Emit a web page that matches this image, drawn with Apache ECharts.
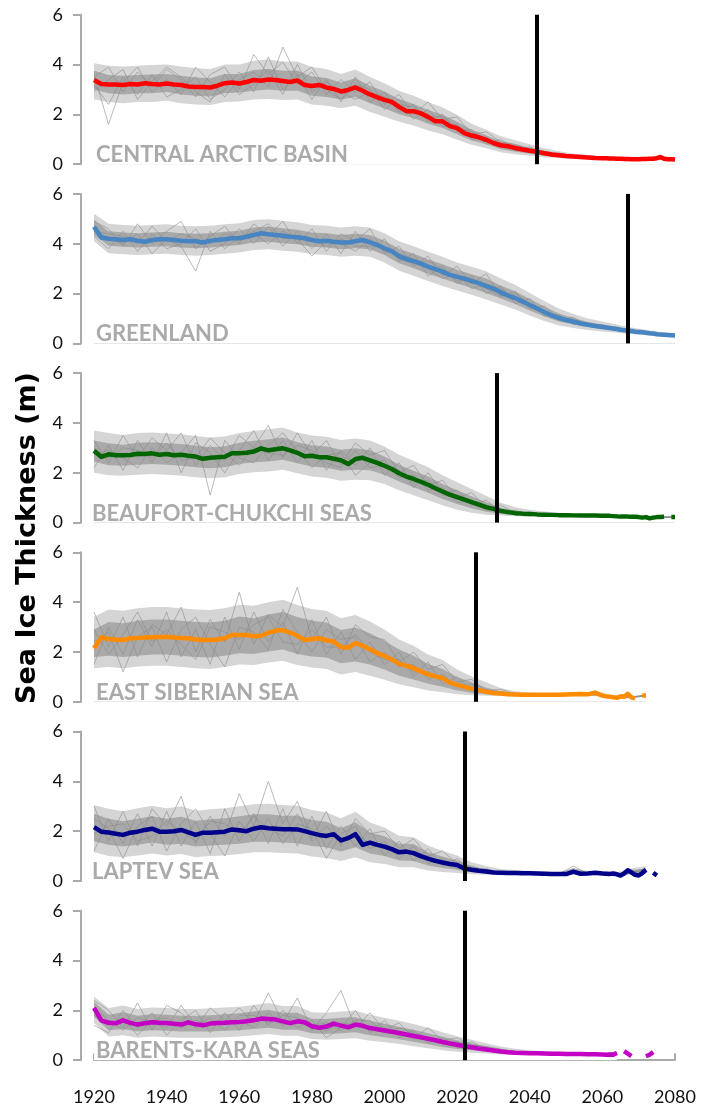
<!DOCTYPE html>
<html>
<head>
<meta charset="utf-8">
<script src="https://cdn.jsdelivr.net/npm/echarts@6/dist/echarts.min.js"></script>
<style>
html,body{margin:0;padding:0;background:#fff;}
#chart{width:710px;height:1113px;}
</style>
</head>
<body>
<div id="chart"></div>
<script>
// ---------------- DATA ----------------
const regions = ['CENTRAL ARCTIC BASIN','GREENLAND','BEAUFORT-CHUKCHI SEAS','EAST SIBERIAN SEA','LAPTEV SEA','BARENTS-KARA SEAS'];
const meanColors = ['#ff0000','#4785c2','#006400','#ff8c00','#00008b','#c400c4'];
const crossYears = [2042,2067,2031,2025,2022,2022];
const yTickValues = [0,2,4,6];
const xTickValues = [1920,1940,1960,1980,2000,2020,2040,2060,2080];
const yTitle = 'Sea Ice Thickness (m)';

// ensemble sample years
const years4 = [1920,1924,1928,1932,1936,1940,1944,1948,1952,1956,1960,1964,1968,1972,1976,1980,1984,1988,1992,1996,2000,2004,2008,2012,2016,2020,2024,2028,2032,2036,2040,2044,2048,2052,2056,2060,2064,2068,2072,2076,2080];
// ensemble-mean sample years
const meanYears = [1920,1922,1924,1926,1928,1930,1932,1934,1936,1938,1940,1942,1944,1946,1948,1950,1952,1954,1956,1958,1960,1962,1964,1966,1968,1970,1972,1974,1976,1978,1980,1982,1984,1986,1988,1990,1992,1994,1996,1998,2000,2002,2004,2006,2008,2010,2012,2014,2016,2018,2020,2022,2024,2026,2028,2030,2032,2034,2036,2038,2040,2042,2044,2046,2048,2050,2052,2054,2056,2058,2060,2061,2062,2063,2064,2065,2066,2067,2068,2069,2070,2071,2072,2073,2074,2075,2076,2077,2078,2079,2080];

// ensemble means
const meanCentral = [3.38,3.22,3.2,3.2,3.18,3.22,3.2,3.25,3.22,3.2,3.24,3.2,3.18,3.12,3.1,3.1,3.08,3.15,3.25,3.28,3.24,3.3,3.38,3.35,3.4,3.38,3.34,3.3,3.36,3.18,3.14,3.18,3.08,3.02,2.92,2.98,3.08,2.95,2.8,2.68,2.58,2.5,2.3,2.13,2.13,2.04,1.9,1.72,1.72,1.53,1.45,1.25,1.15,1.08,0.98,0.85,0.76,0.72,0.65,0.59,0.54,0.5,0.44,0.39,0.36,0.33,0.31,0.29,0.27,0.25,0.24,0.24,0.23,0.23,0.22,0.22,0.21,0.21,0.2,0.2,0.2,0.21,0.21,0.22,0.22,0.24,0.29,0.22,0.2,0.2,0.19];
const meanGreenland = [4.68,4.25,4.2,4.18,4.15,4.18,4.12,4.08,4.15,4.18,4.18,4.15,4.12,4.1,4.1,4.05,4.12,4.15,4.18,4.22,4.22,4.28,4.35,4.42,4.38,4.35,4.32,4.28,4.26,4.22,4.15,4.1,4.12,4.08,4.05,4.05,4.1,4.15,4.05,3.95,3.82,3.7,3.5,3.38,3.3,3.2,3.08,2.98,2.88,2.75,2.67,2.6,2.5,2.42,2.3,2.2,2.05,1.92,1.82,1.68,1.54,1.4,1.26,1.12,1.02,0.94,0.88,0.8,0.75,0.7,0.66,0.64,0.62,0.6,0.58,0.55,0.53,0.51,0.5,0.47,0.46,0.45,0.43,0.41,0.4,0.37,0.36,0.35,0.34,0.33,0.32];
const meanBeaufort = [2.88,2.64,2.74,2.7,2.7,2.71,2.76,2.75,2.78,2.72,2.75,2.7,2.72,2.68,2.65,2.56,2.6,2.62,2.64,2.78,2.78,2.8,2.85,2.98,2.9,2.94,2.98,2.9,2.8,2.66,2.68,2.62,2.62,2.56,2.5,2.35,2.55,2.6,2.5,2.4,2.28,2.15,1.98,1.85,1.75,1.64,1.52,1.38,1.25,1.12,1.02,0.92,0.82,0.72,0.62,0.55,0.47,0.42,0.38,0.36,0.35,0.33,0.32,0.31,0.3,0.3,0.29,0.28,0.28,0.28,0.27,0.27,0.27,0.26,0.25,0.24,0.24,0.24,0.23,0.23,0.22,0.2,0.22,0.17,0.2,0.22,0.22,0.23,null,0.22,0.22];
const meanEastSib = [2.15,2.59,2.52,2.5,2.48,2.55,2.56,2.58,2.59,2.6,2.6,2.58,2.56,2.55,2.5,2.48,2.48,2.5,2.55,2.68,2.68,2.68,2.63,2.65,2.77,2.85,2.88,2.78,2.65,2.48,2.52,2.55,2.47,2.42,2.2,2.17,2.35,2.25,2.11,1.95,1.84,1.7,1.52,1.45,1.35,1.22,1.1,1.02,0.95,0.77,0.68,0.6,0.53,0.47,0.4,0.35,0.33,0.3,0.29,0.28,0.28,0.28,0.28,0.28,0.28,0.29,0.3,0.31,0.3,0.37,0.25,0.22,0.2,0.18,0.16,0.22,0.2,0.32,0.18,0.14,null,0.25,0.25,null,null,null,null,null,null,null,null];
const meanLaptev = [2.16,1.98,1.95,1.9,1.85,1.94,1.98,2.05,2.1,1.98,1.98,2.0,2.05,1.95,1.85,1.94,1.94,1.96,1.98,2.07,2.04,2.0,2.1,2.16,2.12,2.1,2.08,2.08,2.07,2.0,1.92,1.85,1.81,1.88,1.63,1.72,1.88,1.45,1.54,1.45,1.38,1.28,1.15,1.18,1.12,1.0,0.9,0.81,0.74,0.68,0.64,0.5,0.45,0.41,0.38,0.34,0.33,0.32,0.32,0.31,0.31,0.3,0.29,0.28,0.28,0.28,0.38,0.29,0.3,0.33,0.3,0.29,0.28,0.3,0.27,0.22,0.3,0.43,0.35,0.25,0.22,0.32,0.45,null,0.33,0.22,null,null,null,null,null];
const meanBarents = [2.1,1.6,1.5,1.48,1.6,1.5,1.43,1.48,1.52,1.5,1.49,1.46,1.43,1.52,1.44,1.4,1.47,1.49,1.5,1.52,1.53,1.56,1.6,1.67,1.65,1.63,1.56,1.49,1.56,1.52,1.36,1.3,1.35,1.47,1.39,1.32,1.43,1.38,1.29,1.24,1.19,1.14,1.09,1.03,0.97,0.92,0.86,0.8,0.73,0.67,0.62,0.56,0.52,0.47,0.43,0.39,0.35,0.32,0.3,0.29,0.28,0.28,0.27,0.26,0.26,0.25,0.25,0.25,0.24,0.24,0.23,0.22,0.23,0.22,0.29,null,0.36,0.26,0.16,null,null,null,0.16,0.22,0.32,null,null,null,null,null,null];

// ensemble spread: outer range (faint) on years4
const outLoCentral = [2.6,2.5,2.45,2.5,2.5,2.55,2.45,2.4,2.38,2.5,2.52,2.6,2.62,2.58,2.6,2.4,2.35,2.25,2.35,2.1,1.9,1.7,1.55,1.35,1.2,0.98,0.78,0.64,0.48,0.4,0.34,0.28,0.24,0.21,0.19,0.17,0.16,0.16,0.17,0.18,0.15];
const outHiCentral = [4.05,3.95,3.92,3.95,3.98,4.0,3.92,3.85,3.82,4.0,4.0,4.15,4.2,4.12,4.12,3.9,3.82,3.62,3.8,3.5,3.25,2.95,2.75,2.5,2.28,1.98,1.62,1.38,1.12,0.96,0.8,0.64,0.52,0.43,0.37,0.32,0.28,0.26,0.26,0.34,0.24];
const outLoGreenland = [4.1,3.62,3.58,3.55,3.58,3.6,3.55,3.52,3.55,3.6,3.65,3.75,3.78,3.72,3.68,3.58,3.55,3.48,3.52,3.48,3.25,2.92,2.72,2.5,2.3,2.12,1.95,1.76,1.56,1.36,1.12,0.9,0.72,0.62,0.54,0.48,0.43,0.38,0.33,0.28,0.25];
const outHiGreenland = [5.2,4.8,4.75,4.72,4.75,4.78,4.72,4.7,4.72,4.78,4.82,4.95,4.98,4.92,4.86,4.75,4.72,4.65,4.7,4.65,4.42,4.1,3.9,3.68,3.48,3.25,3.08,2.9,2.6,2.35,2.02,1.7,1.4,1.18,1.0,0.88,0.76,0.64,0.55,0.46,0.4];
const outLoBeaufort = [2.0,1.9,1.88,1.92,1.95,1.92,1.88,1.82,1.78,1.82,1.95,2.02,2.05,2.12,1.98,1.85,1.8,1.68,1.72,1.7,1.55,1.3,1.1,0.9,0.7,0.52,0.4,0.32,0.28,0.25,0.24,0.24,0.23,0.23,0.22,0.22,0.2,0.19,0.18,0.18,0.18];
const outHiBeaufort = [3.7,3.6,3.52,3.6,3.62,3.58,3.55,3.48,3.42,3.46,3.6,3.68,3.75,3.82,3.62,3.5,3.45,3.32,3.38,3.3,3.05,2.72,2.48,2.22,1.9,1.62,1.35,1.08,0.8,0.62,0.52,0.45,0.4,0.37,0.35,0.33,0.31,0.29,0.27,0.26,0.26];
const outLoEastSib = [1.35,1.4,1.35,1.42,1.45,1.45,1.4,1.35,1.32,1.4,1.5,1.48,1.58,1.65,1.48,1.38,1.32,1.1,1.2,1.05,0.88,0.7,0.58,0.45,0.38,0.3,0.26,0.24,0.23,0.22,0.22,0.22,0.22,0.23,0.24,0.2,0.13,0.14,0.2,null,null];
const outHiEastSib = [3.4,3.7,3.65,3.75,3.8,3.8,3.75,3.7,3.68,3.75,3.9,3.85,4.0,4.1,3.88,3.72,3.65,3.35,3.48,3.22,2.9,2.5,2.25,1.9,1.68,1.3,1.02,0.78,0.55,0.42,0.36,0.34,0.34,0.36,0.37,0.31,0.2,0.22,0.3,null,null];
const outLoLaptev = [1.15,1.0,0.95,1.02,1.1,1.02,1.08,0.95,1.0,1.02,1.08,1.15,1.15,1.12,1.1,0.98,0.92,0.8,0.95,0.75,0.68,0.55,0.55,0.42,0.36,0.32,0.27,0.25,0.24,0.24,0.24,0.23,0.22,0.24,0.23,0.23,0.22,0.24,0.3,null,null];
const outHiLaptev = [3.05,2.9,2.8,2.92,3.02,2.92,3.0,2.82,2.88,2.92,3.0,3.08,3.1,3.05,3.02,2.85,2.75,2.52,2.78,2.35,2.15,1.82,1.76,1.42,1.2,1.02,0.75,0.6,0.48,0.44,0.41,0.38,0.35,0.5,0.4,0.4,0.35,0.5,0.6,null,null];
const outLoBarents = [1.5,0.95,1.0,0.9,0.95,0.92,0.9,0.9,0.9,0.92,0.95,1.0,1.05,0.98,0.98,0.85,0.82,0.85,0.88,0.78,0.72,0.65,0.56,0.48,0.4,0.34,0.3,0.27,0.24,0.22,0.21,0.2,0.2,0.19,0.19,0.18,0.22,null,null,null,null];
const outHiBarents = [2.55,2.1,2.2,2.05,2.12,2.1,2.05,2.05,2.08,2.12,2.15,2.22,2.3,2.18,2.18,1.92,1.9,1.95,1.98,1.82,1.7,1.58,1.45,1.3,1.12,0.96,0.82,0.68,0.55,0.46,0.4,0.36,0.34,0.32,0.31,0.29,0.36,null,null,null,null];

// ensemble spread: inner (dense) range on years4
const loCentral = [3.0,2.85,2.8,2.85,2.85,2.9,2.8,2.75,2.72,2.85,2.88,2.95,3.0,2.95,2.95,2.75,2.7,2.6,2.7,2.45,2.25,2.0,1.85,1.62,1.45,1.2,0.95,0.8,0.6,0.5,0.42,0.35,0.29,0.25,0.22,0.2,0.19,0.18,0.19,0.22,0.17];
const hiCentral = [3.75,3.58,3.55,3.58,3.6,3.62,3.55,3.48,3.45,3.62,3.62,3.78,3.82,3.75,3.76,3.52,3.46,3.28,3.45,3.15,2.92,2.62,2.42,2.18,1.98,1.7,1.38,1.16,0.92,0.8,0.66,0.54,0.44,0.37,0.32,0.28,0.25,0.23,0.23,0.3,0.21];
const loGreenland = [4.35,3.92,3.88,3.85,3.88,3.9,3.85,3.82,3.85,3.9,3.95,4.05,4.08,4.02,3.98,3.88,3.85,3.78,3.82,3.78,3.55,3.22,3.02,2.8,2.6,2.4,2.22,2.02,1.8,1.58,1.32,1.08,0.88,0.76,0.66,0.58,0.52,0.45,0.39,0.33,0.29];
const hiGreenland = [4.95,4.5,4.45,4.42,4.45,4.48,4.42,4.4,4.42,4.48,4.52,4.65,4.68,4.62,4.56,4.45,4.42,4.35,4.4,4.35,4.12,3.8,3.6,3.38,3.18,2.96,2.78,2.6,2.32,2.08,1.78,1.48,1.2,1.02,0.86,0.76,0.66,0.56,0.48,0.41,0.36];
const loBeaufort = [2.45,2.3,2.28,2.32,2.35,2.32,2.28,2.22,2.18,2.22,2.35,2.42,2.45,2.52,2.38,2.25,2.2,2.08,2.12,2.1,1.92,1.65,1.42,1.2,0.95,0.75,0.58,0.44,0.36,0.3,0.28,0.27,0.26,0.25,0.25,0.24,0.22,0.21,0.2,0.2,0.2];
const hiBeaufort = [3.3,3.18,3.12,3.2,3.22,3.18,3.15,3.08,3.02,3.06,3.2,3.28,3.35,3.42,3.22,3.1,3.05,2.92,2.98,2.9,2.65,2.32,2.08,1.85,1.55,1.3,1.06,0.82,0.6,0.48,0.42,0.38,0.35,0.33,0.31,0.3,0.28,0.26,0.24,0.24,0.24];
const loEastSib = [1.8,1.85,1.8,1.85,1.9,1.9,1.85,1.8,1.78,1.85,1.95,1.92,2.02,2.1,1.92,1.82,1.78,1.55,1.62,1.5,1.3,1.05,0.9,0.72,0.6,0.45,0.36,0.3,0.27,0.25,0.25,0.25,0.25,0.26,0.27,0.22,0.15,0.16,0.22,null,null];
const hiEastSib = [2.9,3.2,3.15,3.25,3.3,3.3,3.25,3.2,3.18,3.25,3.42,3.35,3.5,3.6,3.4,3.25,3.18,2.88,2.98,2.75,2.45,2.1,1.85,1.52,1.32,1.0,0.78,0.56,0.42,0.35,0.32,0.31,0.31,0.33,0.34,0.28,0.18,0.2,0.28,null,null];
const loLaptev = [1.6,1.45,1.38,1.45,1.55,1.45,1.5,1.38,1.42,1.45,1.5,1.58,1.58,1.55,1.52,1.4,1.35,1.18,1.35,1.1,1.0,0.82,0.8,0.62,0.52,0.45,0.35,0.3,0.28,0.27,0.27,0.26,0.25,0.28,0.27,0.27,0.25,0.28,0.35,null,null];
const hiLaptev = [2.7,2.5,2.4,2.5,2.6,2.5,2.58,2.42,2.48,2.52,2.6,2.68,2.68,2.62,2.62,2.45,2.38,2.12,2.36,1.95,1.8,1.5,1.48,1.15,0.98,0.82,0.58,0.47,0.39,0.37,0.35,0.33,0.31,0.4,0.34,0.34,0.3,0.4,0.5,null,null];
const loBarents = [1.75,1.2,1.25,1.15,1.2,1.18,1.15,1.15,1.15,1.18,1.2,1.25,1.3,1.22,1.22,1.08,1.05,1.08,1.12,1.0,0.92,0.84,0.74,0.64,0.53,0.45,0.4,0.34,0.3,0.27,0.25,0.24,0.23,0.22,0.22,0.21,0.25,null,null,null,null];
const hiBarents = [2.35,1.82,1.92,1.78,1.85,1.82,1.78,1.78,1.8,1.84,1.88,1.95,2.02,1.9,1.9,1.66,1.65,1.7,1.72,1.58,1.46,1.34,1.22,1.08,0.94,0.8,0.68,0.56,0.45,0.38,0.34,0.31,0.3,0.28,0.28,0.26,0.33,null,null,null,null];

// individual ensemble members (on years4)
const membersCentral = [
 [3.5,3.9,2.9,3.7,3.1,3.8,3.4,2.7,3.6,3.9,3.0,4.4,3.6,4.1,3.2,3.7,2.8,3.4,2.9,3.3,2.4,2.8,2.0,2.5,1.8,1.9,1.2,1.3,0.9,0.8,0.6,0.5,0.4,0.35,0.3,0.27,0.24,0.22,0.22,0.26,0.2],
 [3.2,2.4,3.5,2.8,3.6,2.7,3.0,3.5,2.6,3.0,3.7,2.9,4.3,3.0,3.6,2.6,3.4,2.5,3.5,2.5,2.9,2.1,2.4,1.7,2.0,1.3,1.4,0.8,1.0,0.6,0.7,0.4,0.45,0.3,0.32,0.25,0.24,0.2,0.22,0.24,0.2],
 [3.6,1.6,3.3,3.9,2.9,3.4,2.8,3.9,3.3,2.7,3.4,3.7,3.1,4.7,3.5,3.9,3.0,2.6,3.2,3.0,2.2,2.6,1.8,2.2,1.5,1.6,1.0,1.1,0.7,0.7,0.5,0.45,0.35,0.3,0.28,0.25,0.22,0.2,0.2,0.22,0.19],
 [2.9,3.4,3.8,2.6,3.3,3.9,3.5,2.9,2.5,3.6,2.8,3.2,3.8,2.8,4.0,2.9,3.3,2.9,2.6,2.9,2.7,2.4,2.3,1.9,1.9,1.5,1.3,0.9,0.85,0.55,0.6,0.45,0.38,0.32,0.28,0.24,0.23,0.21,0.21,0.23,0.2]
];
const membersGreenland = [
 [4.9,4.6,3.9,4.8,4.0,4.5,4.9,3.8,4.3,4.7,4.0,4.8,4.3,4.9,4.0,4.6,3.7,4.4,4.1,4.6,3.6,3.9,3.1,3.5,2.7,3.1,2.4,2.8,1.9,2.1,1.4,1.5,0.95,1.05,0.7,0.75,0.55,0.55,0.42,0.4,0.33],
 [4.3,3.8,4.5,3.7,4.4,3.8,4.0,4.6,3.7,4.0,4.6,4.0,4.7,3.9,4.5,3.8,4.4,3.6,4.5,3.7,4.2,3.3,3.6,2.7,3.1,2.4,2.7,2.0,2.3,1.6,1.8,1.1,1.15,0.75,0.82,0.6,0.62,0.46,0.46,0.34,0.32],
 [4.6,4.2,4.0,4.4,3.6,4.2,3.9,2.9,4.5,3.8,4.3,4.4,4.0,4.5,4.2,3.5,4.1,4.0,3.7,4.2,3.7,3.6,3.4,3.0,2.6,2.8,2.2,2.4,2.2,1.8,1.5,1.3,1.0,0.9,0.72,0.68,0.56,0.5,0.44,0.38,0.32],
 [4.5,4.4,4.3,4.0,4.7,4.1,4.4,4.2,4.0,4.4,4.2,4.5,4.8,4.2,4.3,4.2,3.9,4.2,3.9,3.9,3.9,3.4,3.2,3.3,3.0,2.5,2.6,2.2,1.9,2.0,1.6,1.2,1.1,0.8,0.8,0.65,0.6,0.48,0.42,0.36,0.31]
];
const membersBeaufort = [
 [3.3,2.4,3.5,2.6,3.4,2.9,3.6,2.3,3.1,2.5,3.5,3.0,3.9,2.6,3.6,2.7,3.3,2.3,3.2,2.7,2.9,2.0,2.3,1.5,1.7,1.0,1.2,0.6,0.7,0.4,0.42,0.33,0.34,0.3,0.3,0.28,0.26,0.24,0.22,0.22,0.22],
 [2.2,3.1,2.1,3.3,2.4,3.6,2.0,3.2,2.8,2.0,2.9,3.7,2.5,3.3,2.4,3.3,2.1,2.9,2.3,3.0,1.9,2.4,1.4,2.0,1.2,1.3,0.7,0.9,0.45,0.5,0.33,0.36,0.3,0.3,0.28,0.27,0.25,0.23,0.22,0.22,0.22],
 [2.7,2.9,2.6,2.2,3.0,2.4,2.8,3.5,1.1,3.3,2.6,2.4,3.1,3.6,2.9,2.2,2.7,2.8,1.9,2.4,2.5,1.8,1.9,1.3,1.4,0.8,0.9,0.5,0.5,0.34,0.36,0.3,0.3,0.29,0.28,0.27,0.25,0.23,0.22,0.22,0.22],
 [3.0,2.6,3.0,2.9,2.6,3.2,2.5,2.6,3.4,2.8,2.3,3.0,2.8,2.7,3.1,2.9,2.4,2.2,2.9,2.2,2.3,2.1,1.6,1.7,1.1,1.1,0.8,0.7,0.42,0.42,0.33,0.33,0.31,0.29,0.28,0.26,0.24,0.23,0.22,0.22,0.22]
];
const membersEastSib = [
 [3.6,2.2,3.4,1.8,3.1,2.7,3.8,2.0,3.3,2.4,4.4,2.3,3.5,3.0,4.6,2.5,3.4,1.9,3.1,2.6,2.5,1.6,2.0,1.3,1.5,0.8,0.9,0.45,0.5,0.32,0.33,0.29,0.3,0.31,0.33,0.26,0.17,0.2,0.26,null,null],
 [1.5,3.0,1.9,3.3,2.2,3.6,1.8,2.9,1.5,3.4,2.1,3.6,2.4,3.2,1.9,3.3,1.9,2.8,1.7,2.4,1.5,2.0,1.0,1.6,0.7,1.0,0.45,0.5,0.32,0.32,0.28,0.28,0.28,0.3,0.32,0.25,0.16,0.18,0.25,null,null],
 [2.4,2.8,1.2,2.6,3.0,1.6,2.9,3.4,2.3,1.4,3.0,2.8,2.1,3.7,2.8,2.0,2.9,2.5,2.6,1.6,2.0,1.4,1.5,0.9,1.1,0.6,0.7,0.35,0.38,0.3,0.29,0.28,0.28,0.3,0.31,0.25,0.16,0.18,0.25,null,null],
 [2.9,1.9,2.7,3.6,2.4,2.9,2.3,1.7,3.0,2.8,2.5,3.1,3.4,2.4,2.3,2.9,2.2,2.2,2.7,2.0,1.7,1.7,1.2,1.2,0.9,0.7,0.55,0.4,0.3,0.28,0.28,0.27,0.28,0.3,0.31,0.25,0.16,0.18,0.25,null,null]
];
const membersLaptev = [
 [3.0,1.6,2.8,1.4,2.9,2.2,3.4,1.5,2.6,1.8,3.5,2.2,4.0,2.3,3.2,1.7,2.8,1.4,2.5,1.9,2.0,1.3,1.7,1.0,1.2,0.7,0.6,0.42,0.38,0.34,0.35,0.3,0.3,0.5,0.33,0.33,0.28,0.42,0.48,null,null],
 [1.2,2.5,1.5,2.7,1.4,2.8,1.4,2.4,1.1,2.9,1.6,2.7,1.5,2.9,1.4,2.6,1.3,2.2,1.4,2.1,1.0,1.6,0.8,1.3,0.6,0.9,0.4,0.5,0.3,0.35,0.29,0.3,0.27,0.32,0.3,0.3,0.26,0.34,0.44,null,null],
 [2.5,2.1,0.9,2.2,2.6,1.2,2.3,2.9,1.9,1.0,2.4,1.6,2.5,1.5,2.3,2.1,0.9,1.9,2.2,1.3,1.6,0.9,1.4,0.7,0.9,0.5,0.5,0.35,0.32,0.3,0.3,0.28,0.28,0.6,0.3,0.3,0.27,0.36,0.45,null,null],
 [1.9,2.2,2.3,1.6,1.8,2.4,2.0,1.6,2.4,2.3,1.9,2.6,2.1,1.8,2.7,1.6,2.2,1.6,1.9,1.5,1.3,1.2,1.1,0.9,0.8,0.6,0.45,0.4,0.33,0.32,0.3,0.3,0.28,0.34,0.3,0.3,0.27,0.35,0.45,null,null]
];
const membersBarents = [
 [2.4,2.0,1.3,2.3,1.2,2.2,1.9,1.3,2.1,1.6,2.1,1.5,2.7,1.5,2.5,1.2,1.9,2.8,1.3,1.9,1.2,1.5,0.9,1.3,0.8,0.9,0.6,0.55,0.45,0.33,0.35,0.28,0.3,0.26,0.27,0.24,0.32,null,null,null,null],
 [1.4,1.1,2.0,1.3,1.9,1.0,1.6,2.0,1.1,1.9,1.2,2.2,1.4,2.0,1.3,1.6,0.9,1.3,2.0,1.1,1.6,0.9,1.2,0.7,0.9,0.5,0.75,0.4,0.38,0.3,0.28,0.27,0.26,0.25,0.25,0.23,0.3,null,null,null,null],
 [2.1,1.6,1.2,1.7,1.5,1.3,2.2,1.4,1.7,1.2,1.8,1.8,1.5,1.8,1.7,1.4,1.5,1.2,1.6,1.6,1.1,1.3,1.1,0.8,0.75,0.75,0.45,0.5,0.32,0.32,0.3,0.27,0.26,0.25,0.25,0.23,0.29,null,null,null,null],
 [1.8,1.4,1.7,1.0,1.6,1.7,1.3,1.6,1.4,1.5,1.6,1.3,1.9,1.4,1.6,1.3,1.2,1.5,1.4,1.3,1.3,1.0,1.0,0.9,0.65,0.6,0.55,0.4,0.35,0.3,0.28,0.26,0.25,0.24,0.24,0.22,0.28,null,null,null,null]
];

const means = [meanCentral, meanGreenland, meanBeaufort, meanEastSib, meanLaptev, meanBarents];
const outLows = [outLoCentral, outLoGreenland, outLoBeaufort, outLoEastSib, outLoLaptev, outLoBarents];
const outHighs = [outHiCentral, outHiGreenland, outHiBeaufort, outHiEastSib, outHiLaptev, outHiBarents];
const lows = [loCentral, loGreenland, loBeaufort, loEastSib, loLaptev, loBarents];
const highs = [hiCentral, hiGreenland, hiBeaufort, hiEastSib, hiLaptev, hiBarents];
const members = [membersCentral, membersGreenland, membersBeaufort, membersEastSib, membersLaptev, membersBarents];

// ---------------- LAYOUT ----------------
const panelTop0 = 14.7, panelStep = 179.2, panelH = 149.5, gridLeft = 94, gridW = 581;
const labelX = [96, 96, 92, 96, 92, 96];
const axisGray = '#aaaaaa';
const tickFont = 'Lato';
const outerFill = '#d5d5d5', innerFill = '#a9a9a9';

const grids = [], xAxes = [], yAxes = [], series = [], graphics = [];
function fillSeries(i, arr, color) {
  return {
    type: 'line', xAxisIndex: i, yAxisIndex: i, silent: true, symbol: 'none', z: 1,
    data: years4.map((y, k) => [y, arr[k]]),
    lineStyle: { width: 0, opacity: 0 }, areaStyle: { color: color, opacity: 1 }
  };
}
for (let i = 0; i < 6; i++) {
  const top = panelTop0 + panelStep * i;
  grids.push({ left: gridLeft, top: top, width: gridW, height: panelH });
  const last = (i === 5);
  xAxes.push({
    type: 'value', gridIndex: i, min: xTickValues[0], max: xTickValues[xTickValues.length - 1], interval: 20,
    show: last, offset: 20,
    axisLine: { show: true, lineStyle: { color: axisGray, width: 2 } },
    axisTick: { show: true, inside: true, length: 7, lineStyle: { color: axisGray, width: 2 } },
    axisLabel: { show: true, color: '#111', fontFamily: tickFont, fontSize: 18, margin: 8, formatter: v => String(v) },
    splitLine: { show: false }
  });
  yAxes.push({
    type: 'value', gridIndex: i, min: yTickValues[0], max: yTickValues[yTickValues.length - 1], interval: 2,
    offset: 13,
    axisLine: { show: true, lineStyle: { color: axisGray, width: 2 } },
    axisTick: { show: true, inside: false, length: 8, lineStyle: { color: axisGray, width: 2 } },
    axisLabel: { color: '#111', fontFamily: tickFont, fontSize: 18, margin: 18, formatter: v => String(v) },
    splitLine: { show: false }
  });

  // spread bands, layered: outer high, inner high, inner low, outer low (white)
  series.push(fillSeries(i, outHighs[i], outerFill));
  series.push(fillSeries(i, highs[i], innerFill));
  series.push(fillSeries(i, lows[i], outerFill));
  series.push(fillSeries(i, outLows[i], '#ffffff'));
  // members
  members[i].forEach(m => {
    series.push({
      type: 'line', xAxisIndex: i, yAxisIndex: i, silent: true, symbol: 'none', z: 2,
      data: years4.map((y, k) => [y, m[k]]),
      lineStyle: { width: 0.7, color: '#8a8a8a', opacity: 0.85 }
    });
  });
  // ensemble mean
  series.push({
    type: 'line', xAxisIndex: i, yAxisIndex: i, silent: true, symbol: 'none', z: 3,
    data: meanYears.map((y, k) => [y, means[i][k]]),
    connectNulls: false,
    lineStyle: { width: 4.5, color: meanColors[i], cap: 'butt', join: 'round' }
  });
  // vertical marker
  series.push({
    type: 'line', xAxisIndex: i, yAxisIndex: i, silent: true, symbol: 'none', z: 4, data: [],
    markLine: {
      silent: true, symbol: 'none', label: { show: false },
      lineStyle: { color: '#000', width: 4, type: 'solid' },
      data: [{ xAxis: crossYears[i] }]
    }
  });

  graphics.push({
    type: 'text', x: labelX[i], y: top + panelH - 9, z: 10,
    style: { text: regions[i], fill: '#aaaaaa', font: 'bold 22px Lato', verticalAlign: 'middle', align: 'left' }
  });
}

graphics.push({
  type: 'text', x: 28, y: 538, rotation: Math.PI / 2, z: 10,
  style: { text: yTitle, fill: '#000', font: 'bold 27px "DejaVu Sans"', align: 'center', verticalAlign: 'middle' }
});

const chart = echarts.init(document.getElementById('chart'), null, { renderer: 'canvas' });
chart.setOption({
  animation: false,
  backgroundColor: '#ffffff',
  grid: grids,
  xAxis: xAxes,
  yAxis: yAxes,
  series: series,
  graphic: graphics
});
</script>
</body>
</html>
